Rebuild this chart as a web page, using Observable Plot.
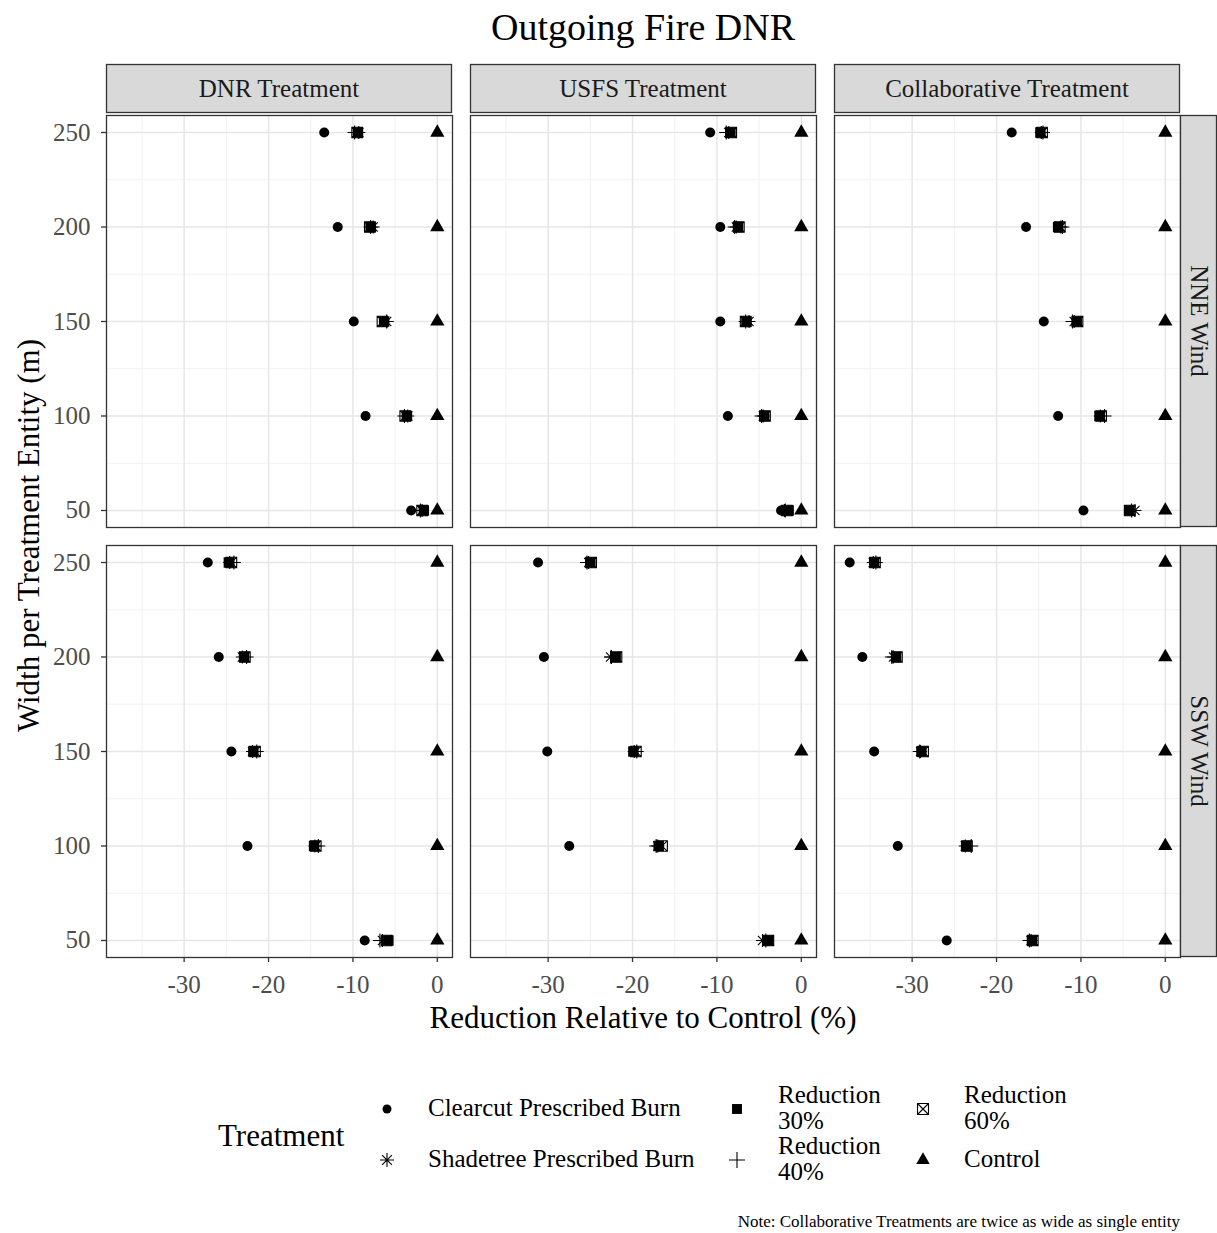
<!DOCTYPE html>
<html><head><meta charset="utf-8">
<script src="https://cdn.jsdelivr.net/npm/d3@7"></script>
<script src="https://cdn.jsdelivr.net/npm/@observablehq/plot@0.6"></script>
<style>
body{margin:0;background:#fff;}
#wrap{position:relative;width:1217px;height:1233px;font-family:"Liberation Serif","Times New Roman",serif;color:#000;overflow:hidden;}
.abs{position:absolute;white-space:nowrap;}
</style></head><body><div id="wrap"></div>
<script>
// ---------------- data ----------------
const widths = [250, 200, 150, 100, 50];
const treatments = ["DNR Treatment", "USFS Treatment", "Collaborative Treatment"];
const winds = ["NNE Wind", "SSW Wind"];
// panel order: DNR/NNE, USFS/NNE, Collab/NNE, DNR/SSW, USFS/SSW, Collab/SSW
const panelTreatment = ["DNR Treatment", "USFS Treatment", "Collaborative Treatment", "DNR Treatment", "USFS Treatment", "Collaborative Treatment"];
const panelWind = ["NNE Wind", "NNE Wind", "NNE Wind", "SSW Wind", "SSW Wind", "SSW Wind"];
const seriesNames = ["Clearcut Prescribed Burn", "Shadetree Prescribed Burn", "Reduction 30%", "Reduction 40%", "Reduction 60%", "Control"];
// values per panel, in order of widths 250,200,150,100,50
const clearcut = [
  [-13.4, -11.8, -9.9, -8.5, -3.1],
  [-10.8, -9.6, -9.6, -8.7, -2.4],
  [-18.2, -16.5, -14.4, -12.7, -9.7],
  [-27.2, -25.9, -24.4, -22.5, -8.6],
  [-31.2, -30.5, -30.1, -27.5, -4.0],
  [-37.4, -35.9, -34.5, -31.7, -25.9]
];
const shadetree = [
  [-9.3, -7.6, -6.0, -3.5, -1.8],
  [-8.6, -7.7, -6.2, -4.5, -2.0],
  [-14.7, -12.4, -10.8, -7.7, -3.6],
  [-24.6, -23.1, -21.9, -14.5, -6.5],
  [-25.2, -22.6, -19.8, -17.0, -4.6],
  [-34.6, -32.2, -29.0, -23.7, -15.9]
];
const reduction30 = [
  [-9.4, -7.9, -6.3, -3.6, -1.6],
  [-8.4, -7.5, -6.5, -4.4, -1.5],
  [-14.8, -12.7, -10.5, -7.8, -4.3],
  [-24.7, -22.9, -21.8, -14.6, -5.8],
  [-25.0, -22.0, -19.9, -16.9, -3.9],
  [-34.5, -31.9, -28.9, -23.6, -15.8]
];
const reduction40 = [
  [-9.8, -7.9, -6.0, -3.9, -2.0],
  [-8.9, -7.9, -6.6, -4.7, -1.9],
  [-14.5, -12.2, -11.0, -7.2, -4.0],
  [-24.1, -22.6, -21.4, -14.1, -6.8],
  [-25.4, -22.5, -19.5, -17.2, -4.2],
  [-34.3, -32.4, -29.1, -23.0, -16.1]
];
const reduction60 = [
  [-9.5, -8.0, -6.5, -3.8, -1.8],
  [-8.3, -7.4, -6.6, -4.3, -1.7],
  [-14.6, -12.5, -10.4, -7.6, -4.2],
  [-24.4, -22.8, -21.6, -14.4, -6.0],
  [-24.9, -21.9, -19.6, -16.5, -3.9],
  [-34.4, -31.8, -28.7, -23.5, -15.7]
];
const control = [
  [0, 0, 0, 0, 0],
  [0, 0, 0, 0, 0],
  [0, 0, 0, 0, 0],
  [0, 0, 0, 0, 0],
  [0, 0, 0, 0, 0],
  [0, 0, 0, 0, 0]
];
const xTicks = [-30, -20, -10, 0];
const xMinorTicks = [-35, -25, -15, -5];
const yTicks = [50, 100, 150, 200, 250];
const yMinorTicks = [75, 125, 175, 225];
const titleText = "Outgoing Fire DNR";
const xTitle = "Reduction Relative to Control (%)";
const yTitle = "Width per Treatment Entity (m)";
const legendTitle = "Treatment";
const captionText = "Note: Collaborative Treatments are twice as wide as single entity";

// ---------------- symbols ----------------
const rad = size => Math.sqrt(size / Math.PI);
const symAsterisk = {draw(c, size) { const r = rad(size), d = r * Math.SQRT1_2;
  c.moveTo(-r, 0); c.lineTo(r, 0); c.moveTo(0, -r); c.lineTo(0, r);
  c.moveTo(-d, -d); c.lineTo(d, d); c.moveTo(-d, d); c.lineTo(d, -d); }};
const symPlus = {draw(c, size) { const r = rad(size);
  c.moveTo(-r, 0); c.lineTo(r, 0); c.moveTo(0, -r); c.lineTo(0, r); }};
const symBoxX = {draw(c, size) { const r = rad(size);
  c.moveTo(-r, -r); c.lineTo(r, -r); c.lineTo(r, r); c.lineTo(-r, r); c.closePath();
  c.moveTo(-r, -r); c.lineTo(r, r); c.moveTo(r, -r); c.lineTo(-r, r); }};

const seriesValues = [clearcut, shadetree, reduction30, reduction40, reduction60, control];
const seriesStyle = [
  {symbol: d3.symbolCircle, r: 5, fill: "black", stroke: "none", lr: 4.5},
  {symbol: symAsterisk, r: 6.5, fill: "none", stroke: "black", lr: 7},
  {symbol: d3.symbolSquare, r: 5.9, fill: "black", stroke: "none", lr: 5.6},
  {symbol: symPlus, r: 7, fill: "none", stroke: "black", lr: 8},
  {symbol: symBoxX, r: 5.3, fill: "none", stroke: "black", lr: 5.5},
  {symbol: d3.symbolTriangle, r: 5.3, fill: "black", stroke: "none", lr: 5}
];

const points = [];
seriesValues.forEach((vals, s) => vals.forEach((row, p) => row.forEach((v, i) => points.push({
  series: seriesNames[s], treatment: panelTreatment[p], wind: panelWind[p], width: widths[i], value: v
}))));

const FONT = '"Liberation Serif","Times New Roman",serif';

const dotMarks = seriesNames.map((name, s) => Plot.dot(points.filter(d => d.series === name), {
  x: "value", y: "width", fx: "treatment", fy: "wind",
  symbol: seriesStyle[s].symbol, r: seriesStyle[s].r,
  fill: seriesStyle[s].fill, stroke: seriesStyle[s].stroke, strokeWidth: 1.1
}));

const chart = Plot.plot({
  width: 1217, height: 985,
  marginTop: 57, marginBottom: 86, marginLeft: 105, marginRight: 36,
  x: {domain: [-39.2, 1.8]},
  y: {domain: [41, 259]},
  fx: {domain: treatments, paddingInner: 18 / 365, paddingOuter: 0, axis: null},
  fy: {domain: winds, paddingInner: 18 / 430, paddingOuter: 0, axis: null},
  style: {fontFamily: FONT, background: "white", overflow: "visible"},
  marks: [
    Plot.gridX({ticks: xMinorTicks, stroke: "#efefef", strokeOpacity: 1, strokeWidth: 0.9}),
    Plot.gridY({ticks: yMinorTicks, stroke: "#efefef", strokeOpacity: 1, strokeWidth: 0.9}),
    Plot.gridX({ticks: xTicks, stroke: "#e6e6e6", strokeOpacity: 1, strokeWidth: 1.5}),
    Plot.gridY({ticks: yTicks, stroke: "#e6e6e6", strokeOpacity: 1, strokeWidth: 1.5}),
    Plot.axisX({ticks: xTicks, tickFormat: d => String(d), tickSize: 5, tickPadding: 13, fontSize: 25,
      stroke: "#333", fill: "#4d4d4d", strokeWidth: 1.3, label: null}),
    Plot.axisY({ticks: yTicks, tickFormat: d => String(d), tickSize: 5, tickPadding: 11, fontSize: 25,
      stroke: "#333", fill: "#4d4d4d", strokeWidth: 1.3, label: null}),
    ...dotMarks,
    Plot.frame({stroke: "#333", strokeWidth: 1.3})
  ]
});

// ---------------- facet strips (positions from Plot's facet scales) ----------------
const fxS = chart.scale("fx"), fyS = chart.scale("fy");
const svg = d3.select(chart);
const strips = svg.append("g");
treatments.forEach(t => {
  const x0 = fxS.apply(t), x1 = x0 + fxS.bandwidth, y0 = fyS.apply(winds[0]);
  strips.append("rect").attr("x", x0 + 0.5).attr("y", y0 - 50.5).attr("width", x1 - x0 - 1).attr("height", 48)
    .attr("fill", "#d9d9d9").attr("stroke", "#333").attr("stroke-width", 1.3);
  strips.append("text").attr("x", (x0 + x1) / 2).attr("y", y0 - 26.5).attr("text-anchor", "middle")
    .attr("dominant-baseline", "central").attr("font-size", 25).attr("font-family", FONT).attr("fill", "#1a1a1a").text(t);
});
winds.forEach(w => {
  const xr = fxS.apply(treatments[treatments.length - 1]) + fxS.bandwidth;
  const y0 = fyS.apply(w), y1 = y0 + fyS.bandwidth;
  strips.append("rect").attr("x", xr + 0.5).attr("y", y0 + 0.5).attr("width", 36).attr("height", y1 - y0 - 1)
    .attr("fill", "#d9d9d9").attr("stroke", "#333").attr("stroke-width", 1.3);
  strips.append("text").attr("transform", `translate(${xr + 19},${(y0 + y1) / 2}) rotate(90)`).attr("text-anchor", "middle")
    .attr("dominant-baseline", "central").attr("font-size", 25).attr("font-family", FONT).attr("fill", "#1a1a1a").text(w);
});

// ---------------- layout ----------------
const wrap = document.getElementById("wrap");
function addText(txt, css) {
  const el = document.createElement("div");
  el.className = "abs";
  el.textContent = txt;
  Object.assign(el.style, css);
  wrap.appendChild(el);
  return el;
}
addText(titleText, {left: "105px", width: "1076px", top: "8px", lineHeight: "38px", fontSize: "38px", textAlign: "center"});
chart.style.position = "absolute";
chart.style.left = "0px";
chart.style.top = "58px";
wrap.appendChild(chart);
addText(xTitle, {left: "105px", width: "1076px", top: "1002px", lineHeight: "31px", fontSize: "31px", textAlign: "center"});
addText(yTitle, {left: "-222px", width: "500px", top: "520px", lineHeight: "31px", fontSize: "31px", textAlign: "center", transform: "rotate(-90deg)"});

// legend
addText(legendTitle, {left: "218px", top: "1120px", lineHeight: "31px", fontSize: "31px"});
const colX = [387, 737, 923];
const rowY = [1109, 1160];
seriesNames.forEach((name, s) => {
  const col = Math.floor(s / 2), row = s % 2;
  const st = seriesStyle[s];
  const path = d3.symbol(st.symbol, st.lr * st.lr * Math.PI)();
  const sw = document.createElementNS("http://www.w3.org/2000/svg", "svg");
  sw.setAttribute("width", 30); sw.setAttribute("height", 30);
  sw.setAttribute("viewBox", "-15 -15 30 30");
  sw.style.position = "absolute";
  sw.style.left = (colX[col] - 15) + "px";
  sw.style.top = (rowY[row] - 15) + "px";
  const p = document.createElementNS("http://www.w3.org/2000/svg", "path");
  p.setAttribute("d", path);
  p.setAttribute("fill", st.fill);
  p.setAttribute("stroke", st.stroke);
  p.setAttribute("stroke-width", 1.1);
  sw.appendChild(p);
  wrap.appendChild(sw);
  const twoLine = name.startsWith("Reduction");
  const el = addText("", {left: (colX[col] + 41) + "px", fontSize: "25px", lineHeight: "26px",
    top: (rowY[row] - (twoLine ? 27 : 14)) + "px"});
  if (twoLine) { const parts = name.split(" "); el.innerHTML = parts[0] + "<br>" + parts.slice(1).join(" "); }
  else el.textContent = name;
});
addText(captionText, {right: "37px", top: "1212px", fontSize: "17px", lineHeight: "20px"});
</script></body></html>
